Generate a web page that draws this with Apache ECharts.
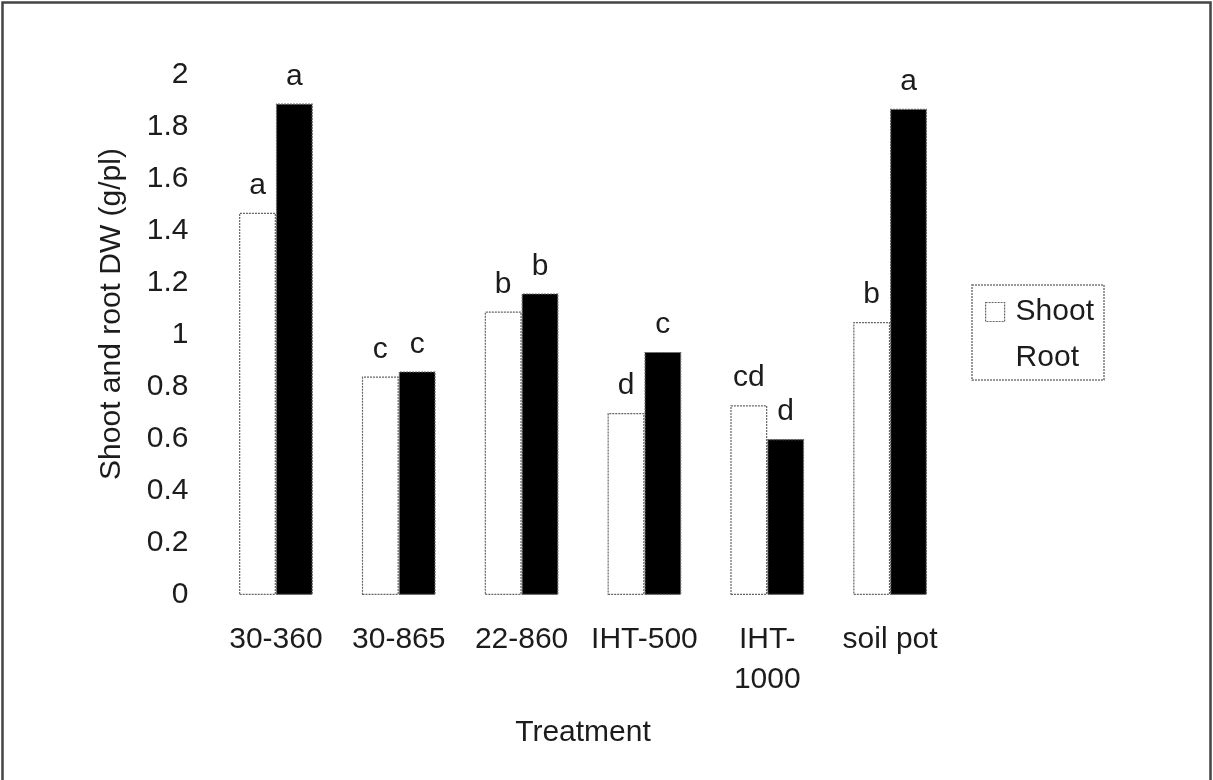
<!DOCTYPE html>
<html>
<head>
<meta charset="utf-8">
<script src="https://cdn.jsdelivr.net/npm/echarts@6/dist/echarts.min.js"></script>
<style>
  html, body { margin: 0; padding: 0; background: #fff; }
  #chart { width: 1213px; height: 780px; }
</style>
</head>
<body>
<div id="chart"></div>
<script>
// Dry weight per plant for each growing treatment
const categories = ['30-360', '30-865', '22-860', 'IHT-500', 'IHT-\n1000', 'soil pot'];
const shootDW = [1.47, 0.84, 1.09, 0.70, 0.73, 1.05];
const rootDW  = [1.89, 0.86, 1.16, 0.935, 0.60, 1.87];
// Significance letters shown above each bar
const shootLetters = ['a', 'c', 'b', 'd', 'cd', 'b'];
const rootLetters  = ['a', 'c', 'b', 'c', 'd', 'a'];
const yTicks = { min: 0, max: 2, interval: 0.2 };

const FONT = 'Liberation Sans, Arial, sans-serif';
const INK = '#1c1c1c';
const EDGE = '#666';

const chart = echarts.init(document.getElementById('chart'), null, { renderer: 'canvas' });

const labelStyle = (letters) => ({
  show: true,
  position: 'top',
  distance: 12,
  fontFamily: FONT,
  fontSize: 30,
  color: INK,
  formatter: (p) => letters[p.dataIndex]
});

chart.setOption({
  animation: false,
  backgroundColor: '#fff',
  textStyle: { fontFamily: FONT },
  grid: { left: 214.5, right: 261.5, top: 75, bottom: 185, containLabel: false },
  legend: {
    orient: 'vertical',
    left: 972,
    top: 285,
    width: 135,
    padding: [12, 10, 7, 13],
    itemGap: 16,
    itemWidth: 19,
    itemHeight: 19,
    borderColor: '#777',
    borderWidth: 1.5,
    borderType: [2, 1],
    textStyle: { fontFamily: FONT, fontSize: 30, color: INK, padding: [0, 0, 0, 6] },
    data: [
      { name: 'Shoot', icon: 'rect', itemStyle: { color: '#fff', borderColor: EDGE, borderWidth: 1.2, borderType: [2, 1] } },
      { name: 'Root', icon: 'rect', itemStyle: { color: 'rgba(0,0,0,0)', borderColor: 'rgba(0,0,0,0)', borderWidth: 0 } }
    ]
  },
  xAxis: {
    type: 'category',
    data: categories,
    axisLine: { show: false },
    axisTick: { show: false },
    axisLabel: {
      margin: 25,
      fontFamily: FONT,
      fontSize: 30,
      lineHeight: 40,
      color: INK,
      interval: 0
    },
    name: 'Treatment',
    nameLocation: 'middle',
    nameGap: 123,
    nameTextStyle: { fontFamily: FONT, fontSize: 30, color: INK }
  },
  yAxis: {
    type: 'value',
    min: yTicks.min,
    max: yTicks.max,
    interval: yTicks.interval,
    axisLine: { show: false },
    axisTick: { show: false },
    splitLine: { show: false },
    axisLabel: { margin: 26, fontFamily: FONT, fontSize: 30, color: INK }
  },
  graphic: [
    {
      type: 'rect',
      silent: true,
      shape: { x: 2.5, y: 2.5, width: 1208, height: 800 },
      style: { fill: 'none', stroke: '#444', lineWidth: 2.5 }
    },
    {
      type: 'text',
      silent: true,
      x: 112,
      y: 314,
      rotation: Math.PI / 2,
      style: {
        text: 'Shoot and root DW (g/pl)',
        fontFamily: FONT,
        fontSize: 30,
        fill: INK,
        align: 'center',
        verticalAlign: 'middle'
      }
    }
  ],
  series: [
    {
      name: 'Shoot',
      type: 'bar',
      data: shootDW,
      barGap: '0%',
      barCategoryGap: '40%',
      itemStyle: { color: '#fff', borderColor: EDGE, borderWidth: 1.2, borderType: [2, 1] },
      label: labelStyle(shootLetters)
    },
    {
      name: 'Root',
      type: 'bar',
      data: rootDW,
      barGap: '0%',
      barCategoryGap: '40%',
      itemStyle: { color: '#000', borderColor: EDGE, borderWidth: 1.2, borderType: [2, 1] },
      label: labelStyle(rootLetters)
    }
  ]
});
</script>
</body>
</html>
